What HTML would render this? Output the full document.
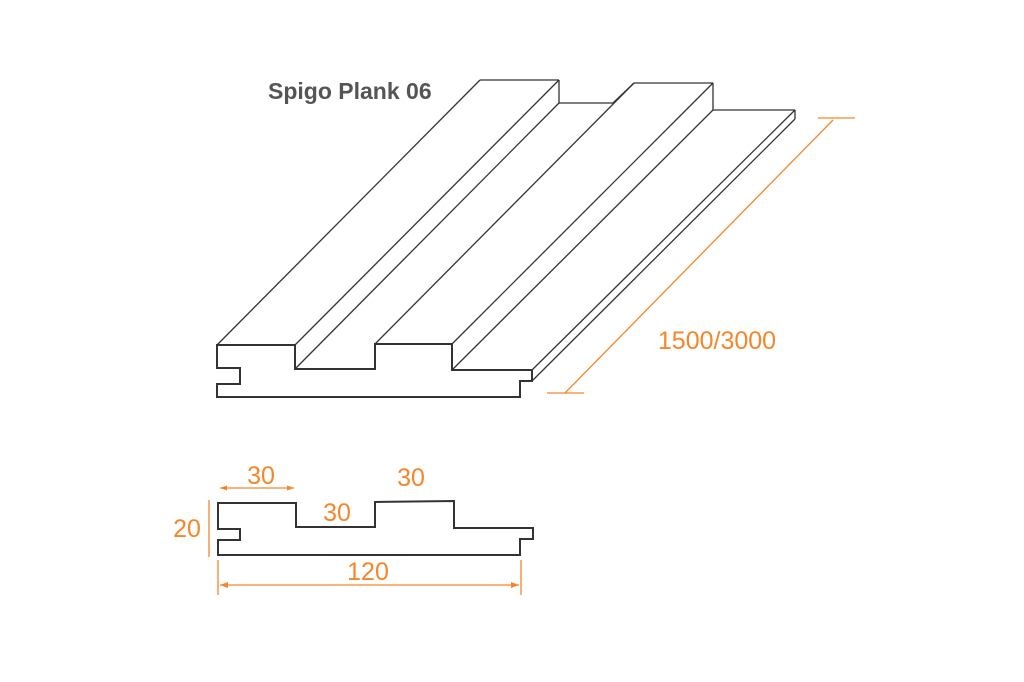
<!DOCTYPE html>
<html><head><meta charset="utf-8"><style>html,body{margin:0;padding:0;background:#fff}svg{display:block}</style></head>
<body>
<svg width="1024" height="682" viewBox="0 0 1024 682" xmlns="http://www.w3.org/2000/svg">
<g fill="none" stroke="#333" stroke-width="1.3" stroke-linejoin="miter">
<path d="M217,345 L295,345 L295,369 L375,369 L375,344 L452,344 L452,370 L532,370 L532,381 L520,381 L520,397 L217,397 L217,384 L240,384 L240,368 L217,368 Z" stroke-width="2"/>
<line x1="217" y1="345" x2="480" y2="80"/>
<line x1="480" y1="80" x2="559" y2="80"/>
<line x1="295" y1="345" x2="559" y2="80"/>
<line x1="559" y1="80" x2="559" y2="103"/>
<line x1="295" y1="369" x2="559" y2="103"/>
<line x1="559" y1="103" x2="613" y2="103"/>
<line x1="375" y1="344" x2="634" y2="83"/>
<line x1="613" y1="103" x2="634" y2="83"/>
<line x1="634" y1="83" x2="713" y2="83"/>
<line x1="452" y1="344" x2="713" y2="83"/>
<line x1="713" y1="83" x2="713" y2="110"/>
<line x1="452" y1="370" x2="713" y2="110"/>
<line x1="713" y1="110" x2="795" y2="110"/>
<line x1="532" y1="370" x2="795" y2="110"/>
<line x1="532" y1="381" x2="795" y2="119"/>
<line x1="795" y1="110" x2="795" y2="119"/>
<path d="M218,503 L296,503 L296,527 L375,527 L375,502 L454,501 L454,528 L533,528 L533,539 L520,539 L520,555 L218,555 L218,540 L240,540 L240,529 L218,529 Z" stroke-width="2"/>
</g>
<g stroke="#f7862a" stroke-width="1.3" fill="#f7862a">
<line x1="565" y1="393" x2="833" y2="120"/>
<line x1="547" y1="393" x2="584" y2="393"/>
<line x1="818" y1="118" x2="855" y2="118"/>
<line x1="209" y1="500" x2="209" y2="557"/>
<line x1="218" y1="560" x2="218" y2="595"/>
<line x1="521" y1="560" x2="521" y2="595"/>
<line x1="220" y1="585" x2="519" y2="585"/>
<line x1="220" y1="488" x2="294" y2="488"/>
<path d="M220,585 L228,582 L228,588 Z" stroke="none"/>
<path d="M519,585 L511,582 L511,588 Z" stroke="none"/>
<path d="M220,488 L227,485.5 L227,490.5 Z" stroke="none"/>
<path d="M294,488 L287,485.5 L287,490.5 Z" stroke="none"/>
</g>
<g font-family="Liberation Sans, sans-serif" fill="#f7862a" font-size="25">
<text x="717" y="349" text-anchor="middle">1500/3000</text>
<text x="368" y="580" text-anchor="middle">120</text>
<text x="187" y="537" text-anchor="middle">20</text>
<text x="261" y="484" text-anchor="middle">30</text>
<text x="337" y="521" text-anchor="middle">30</text>
<text x="411" y="486" text-anchor="middle">30</text>
</g>
<text x="268" y="99" font-family="Liberation Sans, sans-serif" font-weight="bold" font-size="23" fill="#555">Spigo Plank 06</text>
</svg>
</body></html>
